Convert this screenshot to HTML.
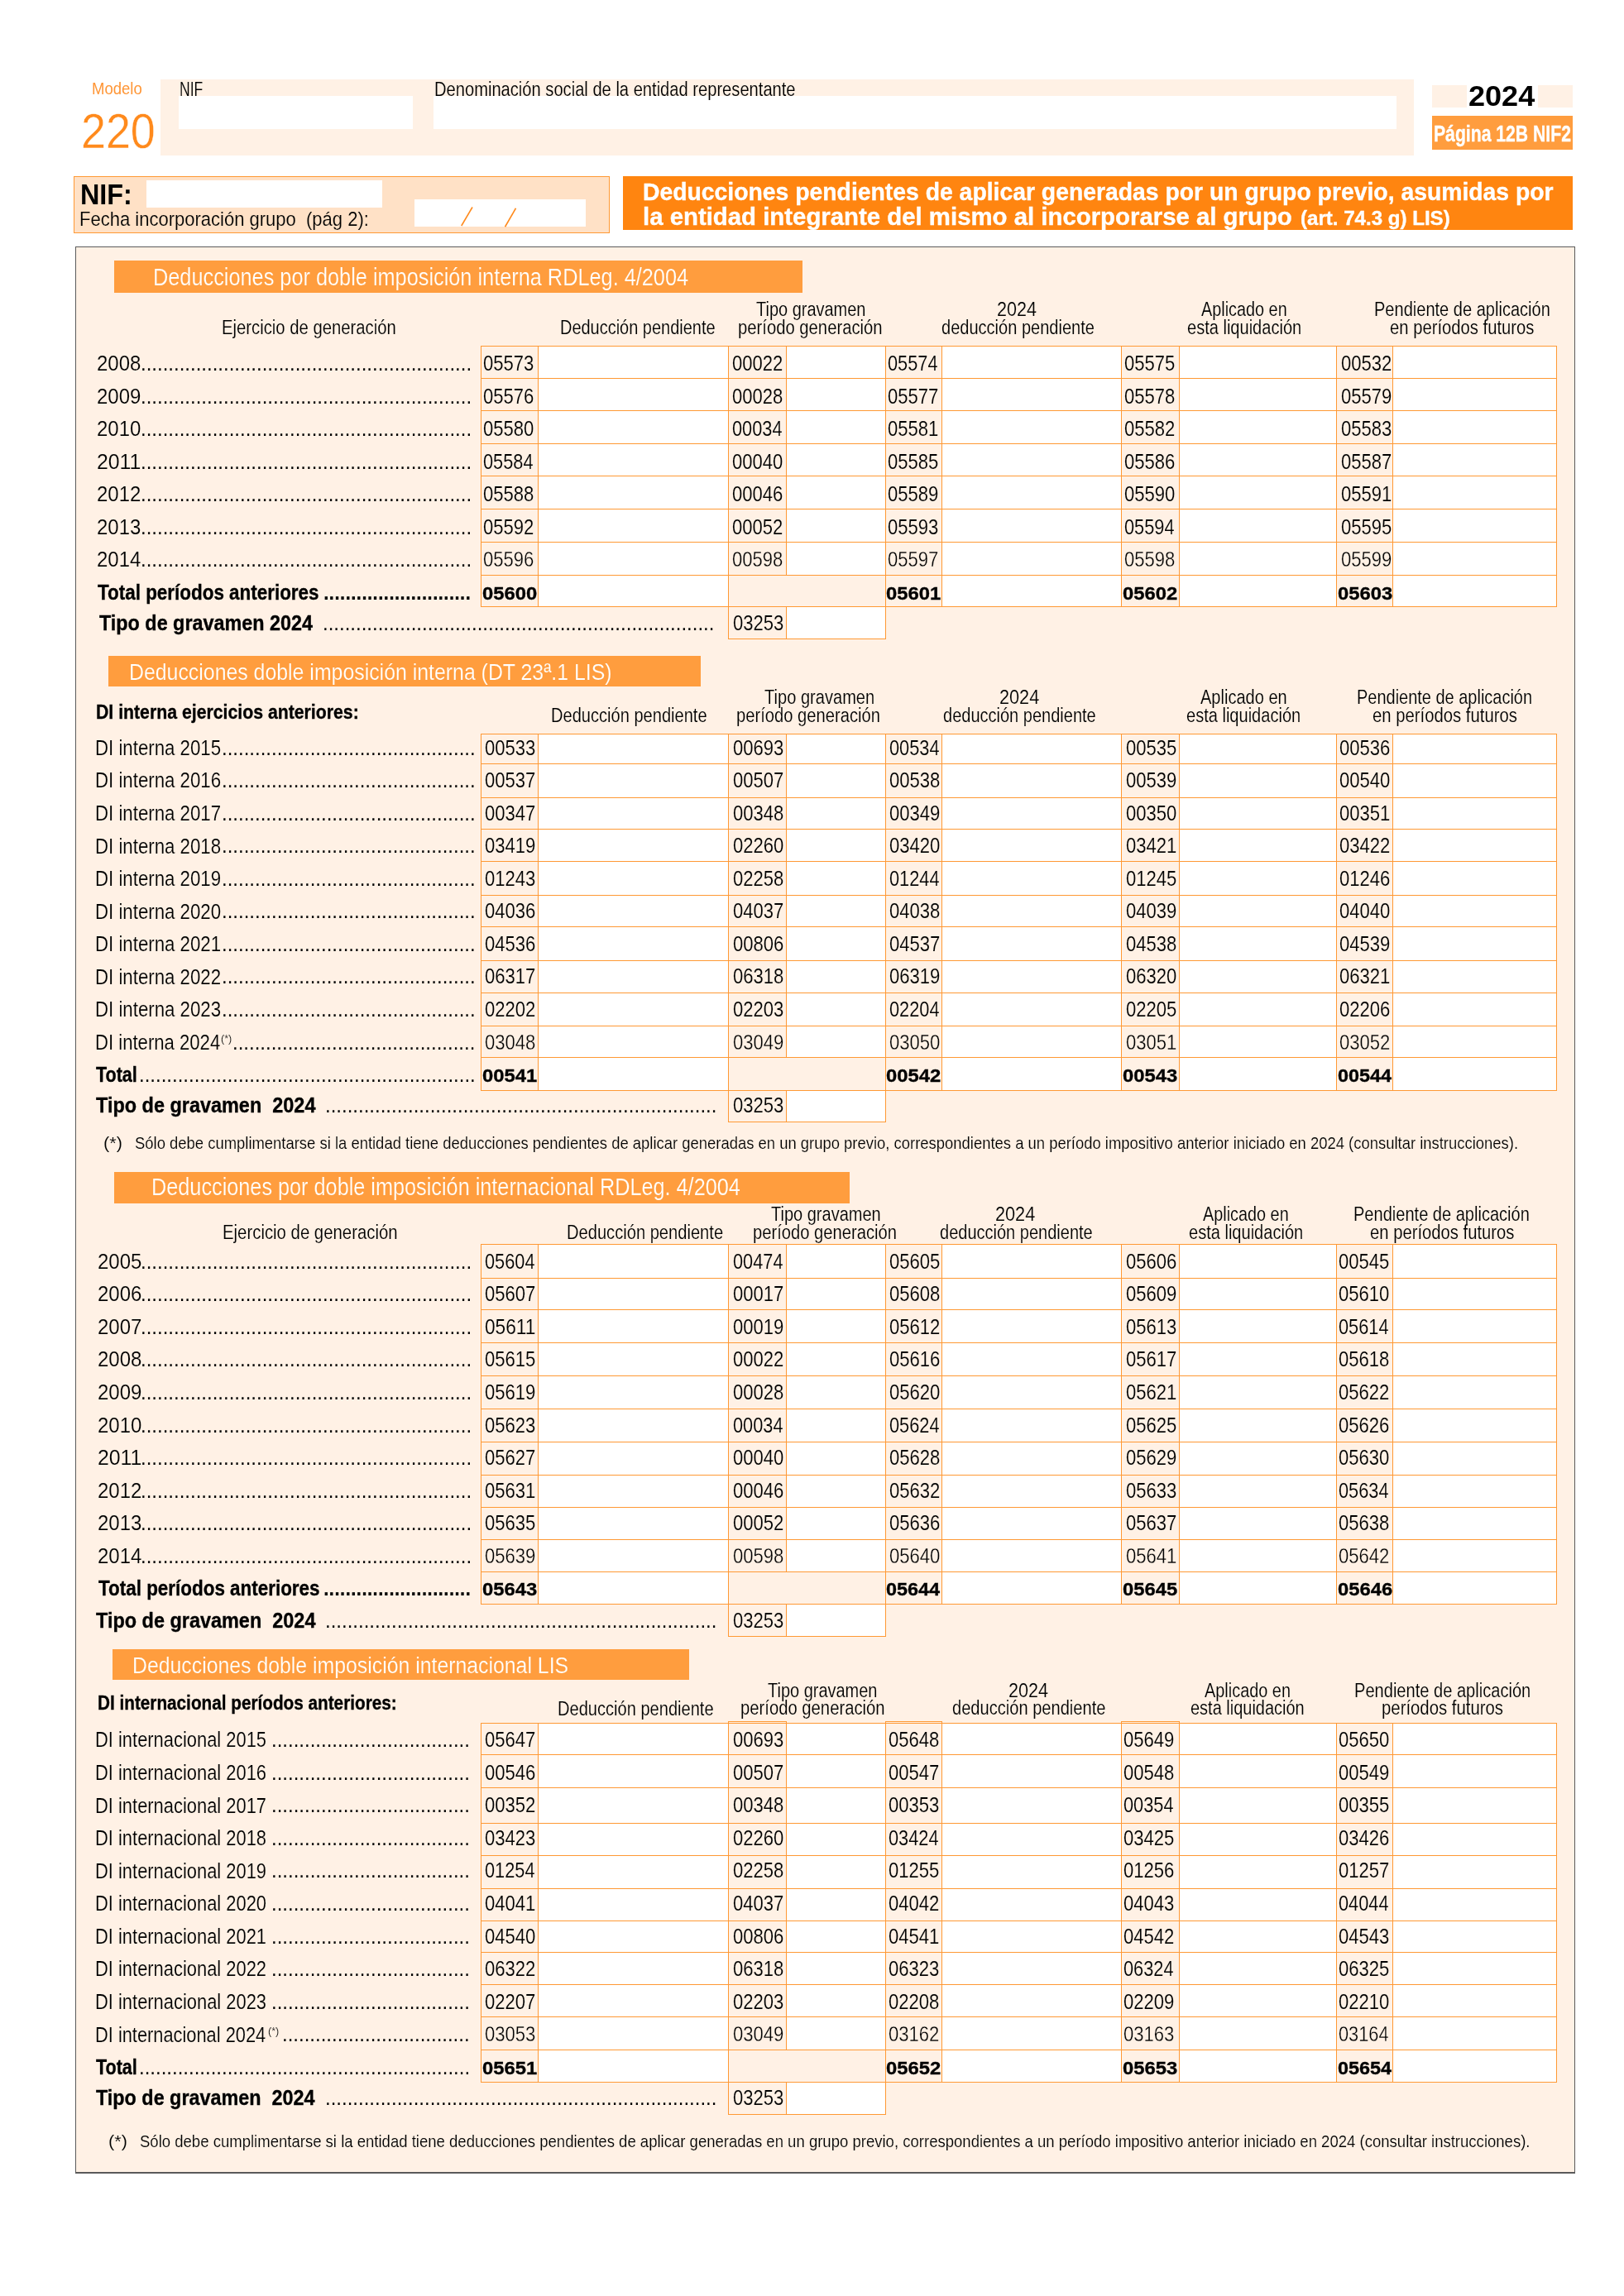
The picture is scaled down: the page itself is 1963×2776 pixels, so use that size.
<!DOCTYPE html>
<html lang="es"><head><meta charset="utf-8"><title>Modelo 220 - Página 12B NIF2</title>
<style>
html,body{margin:0;padding:0;background:#fff;}
body{width:1963px;height:2776px;position:relative;overflow:hidden;font-family:"Liberation Sans", sans-serif;}
.r{position:absolute;}
.t{position:absolute;white-space:pre;line-height:1;transform-origin:0 0;color:#000;}
.b{font-weight:bold;}
svg{position:absolute;left:0;top:0;}
#tx{position:absolute;left:0;top:0;width:1963px;height:2776px;will-change:transform;}
</style></head><body>
<div class="r" style="left:193.75px;top:95.50px;width:1515.50px;height:92.00px;background:#FFF1E5"></div>
<div class="r" style="left:216.00px;top:116.00px;width:283.00px;height:39.50px;background:#fff"></div>
<div class="r" style="left:524.00px;top:116.00px;width:1164.00px;height:39.50px;background:#fff"></div>
<div class="r" style="left:1730.75px;top:103.25px;width:170.45px;height:26.25px;background:#FFF1E5"></div>
<div class="r" style="left:1773.00px;top:100.00px;width:85.75px;height:30.00px;background:#fff"></div>
<div class="r" style="left:1731.00px;top:139.50px;width:170.20px;height:41.25px;background:#FF9D3E"></div>
<div class="r" style="left:89.00px;top:212.80px;width:648.00px;height:69.20px;background:#FF9934"></div>
<div class="r" style="left:90.20px;top:214.00px;width:645.60px;height:66.80px;background:#FFE1C6"></div>
<div class="r" style="left:177.00px;top:218.00px;width:284.75px;height:32.75px;background:#fff"></div>
<div class="r" style="left:501.00px;top:240.75px;width:206.75px;height:33.00px;background:#fff"></div>
<div class="r" style="left:753.00px;top:213.00px;width:1148.20px;height:64.70px;background:#FF8510"></div>
<div class="r" style="left:91.20px;top:297.60px;width:1812.80px;height:2330.00px;background:#5a5a5a"></div>
<div class="r" style="left:92.30px;top:298.70px;width:1810.60px;height:2327.80px;background:#FFF1E5"></div>
<div class="r" style="left:138.00px;top:315.00px;width:831.50px;height:39.40px;background:#FF9D3E"></div>
<div class="r" style="left:650.00px;top:418.75px;width:230.75px;height:315.00px;background:#fff"></div>
<div class="r" style="left:950.50px;top:418.75px;width:120.00px;height:276.25px;background:#fff"></div>
<div class="r" style="left:1138.50px;top:418.75px;width:217.25px;height:315.00px;background:#fff"></div>
<div class="r" style="left:1425.25px;top:418.75px;width:190.50px;height:315.00px;background:#fff"></div>
<div class="r" style="left:1683.75px;top:418.75px;width:197.50px;height:315.00px;background:#fff"></div>
<div class="r" style="left:950.50px;top:733.75px;width:120.00px;height:38.25px;background:#fff"></div>
<div class="r" style="left:580.65px;top:417.65px;width:1301.70px;height:1.70px;background:#FF9934"></div>
<div class="r" style="left:580.65px;top:456.65px;width:1301.70px;height:1.70px;background:#FF9934"></div>
<div class="r" style="left:580.65px;top:495.65px;width:1301.70px;height:1.70px;background:#FF9934"></div>
<div class="r" style="left:580.65px;top:535.65px;width:1301.70px;height:1.70px;background:#FF9934"></div>
<div class="r" style="left:580.65px;top:574.65px;width:1301.70px;height:1.70px;background:#FF9934"></div>
<div class="r" style="left:580.65px;top:614.65px;width:1301.70px;height:1.70px;background:#FF9934"></div>
<div class="r" style="left:580.65px;top:654.65px;width:1301.70px;height:1.70px;background:#FF9934"></div>
<div class="r" style="left:580.65px;top:694.65px;width:1301.70px;height:1.70px;background:#FF9934"></div>
<div class="r" style="left:580.65px;top:732.65px;width:1301.70px;height:1.70px;background:#FF9934"></div>
<div class="r" style="left:879.65px;top:771.65px;width:191.70px;height:1.70px;background:#FF9934"></div>
<div class="r" style="left:580.65px;top:417.65px;width:1.70px;height:316.70px;background:#FF9934"></div>
<div class="r" style="left:649.65px;top:417.65px;width:1.70px;height:316.70px;background:#FF9934"></div>
<div class="r" style="left:879.65px;top:417.65px;width:1.70px;height:355.70px;background:#FF9934"></div>
<div class="r" style="left:949.65px;top:417.65px;width:1.70px;height:278.70px;background:#FF9934"></div>
<div class="r" style="left:949.65px;top:732.65px;width:1.70px;height:40.70px;background:#FF9934"></div>
<div class="r" style="left:1069.65px;top:417.65px;width:1.70px;height:355.70px;background:#FF9934"></div>
<div class="r" style="left:1137.65px;top:417.65px;width:1.70px;height:316.70px;background:#FF9934"></div>
<div class="r" style="left:1354.65px;top:417.65px;width:1.70px;height:316.70px;background:#FF9934"></div>
<div class="r" style="left:1424.65px;top:417.65px;width:1.70px;height:316.70px;background:#FF9934"></div>
<div class="r" style="left:1614.65px;top:417.65px;width:1.70px;height:316.70px;background:#FF9934"></div>
<div class="r" style="left:1682.65px;top:417.65px;width:1.70px;height:316.70px;background:#FF9934"></div>
<div class="r" style="left:1880.65px;top:417.65px;width:1.70px;height:316.70px;background:#FF9934"></div>
<div class="r" style="left:131.25px;top:792.50px;width:715.75px;height:37.00px;background:#FF9D3E"></div>
<div class="r" style="left:650.00px;top:887.00px;width:230.75px;height:431.00px;background:#fff"></div>
<div class="r" style="left:950.50px;top:887.00px;width:120.00px;height:391.75px;background:#fff"></div>
<div class="r" style="left:1138.50px;top:887.00px;width:217.25px;height:431.00px;background:#fff"></div>
<div class="r" style="left:1425.25px;top:887.00px;width:190.50px;height:431.00px;background:#fff"></div>
<div class="r" style="left:1683.75px;top:887.00px;width:197.50px;height:431.00px;background:#fff"></div>
<div class="r" style="left:950.50px;top:1318.00px;width:120.00px;height:38.25px;background:#fff"></div>
<div class="r" style="left:580.65px;top:886.65px;width:1301.70px;height:1.70px;background:#FF9934"></div>
<div class="r" style="left:580.65px;top:922.65px;width:1301.70px;height:1.70px;background:#FF9934"></div>
<div class="r" style="left:580.65px;top:963.65px;width:1301.70px;height:1.70px;background:#FF9934"></div>
<div class="r" style="left:580.65px;top:1001.65px;width:1301.70px;height:1.70px;background:#FF9934"></div>
<div class="r" style="left:580.65px;top:1040.65px;width:1301.70px;height:1.70px;background:#FF9934"></div>
<div class="r" style="left:580.65px;top:1081.65px;width:1301.70px;height:1.70px;background:#FF9934"></div>
<div class="r" style="left:580.65px;top:1119.65px;width:1301.70px;height:1.70px;background:#FF9934"></div>
<div class="r" style="left:580.65px;top:1160.65px;width:1301.70px;height:1.70px;background:#FF9934"></div>
<div class="r" style="left:580.65px;top:1199.65px;width:1301.70px;height:1.70px;background:#FF9934"></div>
<div class="r" style="left:580.65px;top:1239.65px;width:1301.70px;height:1.70px;background:#FF9934"></div>
<div class="r" style="left:580.65px;top:1277.65px;width:1301.70px;height:1.70px;background:#FF9934"></div>
<div class="r" style="left:580.65px;top:1317.65px;width:1301.70px;height:1.70px;background:#FF9934"></div>
<div class="r" style="left:879.65px;top:1355.65px;width:191.70px;height:1.70px;background:#FF9934"></div>
<div class="r" style="left:580.65px;top:886.65px;width:1.70px;height:432.70px;background:#FF9934"></div>
<div class="r" style="left:649.65px;top:886.65px;width:1.70px;height:432.70px;background:#FF9934"></div>
<div class="r" style="left:879.65px;top:886.65px;width:1.70px;height:470.70px;background:#FF9934"></div>
<div class="r" style="left:949.65px;top:886.65px;width:1.70px;height:392.70px;background:#FF9934"></div>
<div class="r" style="left:949.65px;top:1317.65px;width:1.70px;height:39.70px;background:#FF9934"></div>
<div class="r" style="left:1069.65px;top:886.65px;width:1.70px;height:470.70px;background:#FF9934"></div>
<div class="r" style="left:1137.65px;top:886.65px;width:1.70px;height:432.70px;background:#FF9934"></div>
<div class="r" style="left:1354.65px;top:886.65px;width:1.70px;height:432.70px;background:#FF9934"></div>
<div class="r" style="left:1424.65px;top:886.65px;width:1.70px;height:432.70px;background:#FF9934"></div>
<div class="r" style="left:1614.65px;top:886.65px;width:1.70px;height:432.70px;background:#FF9934"></div>
<div class="r" style="left:1682.65px;top:886.65px;width:1.70px;height:432.70px;background:#FF9934"></div>
<div class="r" style="left:1880.65px;top:886.65px;width:1.70px;height:432.70px;background:#FF9934"></div>
<div class="r" style="left:138.00px;top:1416.50px;width:888.50px;height:38.00px;background:#FF9D3E"></div>
<div class="r" style="left:650.00px;top:1504.70px;width:230.75px;height:435.05px;background:#fff"></div>
<div class="r" style="left:950.50px;top:1504.70px;width:120.00px;height:396.05px;background:#fff"></div>
<div class="r" style="left:1138.50px;top:1504.70px;width:217.25px;height:435.05px;background:#fff"></div>
<div class="r" style="left:1425.25px;top:1504.70px;width:190.50px;height:435.05px;background:#fff"></div>
<div class="r" style="left:1683.75px;top:1504.70px;width:197.50px;height:435.05px;background:#fff"></div>
<div class="r" style="left:950.50px;top:1939.75px;width:120.00px;height:39.00px;background:#fff"></div>
<div class="r" style="left:580.65px;top:1503.65px;width:1301.70px;height:1.70px;background:#FF9934"></div>
<div class="r" style="left:580.65px;top:1544.65px;width:1301.70px;height:1.70px;background:#FF9934"></div>
<div class="r" style="left:580.65px;top:1582.65px;width:1301.70px;height:1.70px;background:#FF9934"></div>
<div class="r" style="left:580.65px;top:1622.65px;width:1301.70px;height:1.70px;background:#FF9934"></div>
<div class="r" style="left:580.65px;top:1662.65px;width:1301.70px;height:1.70px;background:#FF9934"></div>
<div class="r" style="left:580.65px;top:1702.65px;width:1301.70px;height:1.70px;background:#FF9934"></div>
<div class="r" style="left:580.65px;top:1742.65px;width:1301.70px;height:1.70px;background:#FF9934"></div>
<div class="r" style="left:580.65px;top:1782.65px;width:1301.70px;height:1.70px;background:#FF9934"></div>
<div class="r" style="left:580.65px;top:1821.65px;width:1301.70px;height:1.70px;background:#FF9934"></div>
<div class="r" style="left:580.65px;top:1860.65px;width:1301.70px;height:1.70px;background:#FF9934"></div>
<div class="r" style="left:580.65px;top:1899.65px;width:1301.70px;height:1.70px;background:#FF9934"></div>
<div class="r" style="left:580.65px;top:1938.65px;width:1301.70px;height:1.70px;background:#FF9934"></div>
<div class="r" style="left:879.65px;top:1977.65px;width:191.70px;height:1.70px;background:#FF9934"></div>
<div class="r" style="left:580.65px;top:1503.65px;width:1.70px;height:436.70px;background:#FF9934"></div>
<div class="r" style="left:649.65px;top:1503.65px;width:1.70px;height:436.70px;background:#FF9934"></div>
<div class="r" style="left:879.65px;top:1503.65px;width:1.70px;height:475.70px;background:#FF9934"></div>
<div class="r" style="left:949.65px;top:1503.65px;width:1.70px;height:397.70px;background:#FF9934"></div>
<div class="r" style="left:949.65px;top:1938.65px;width:1.70px;height:40.70px;background:#FF9934"></div>
<div class="r" style="left:1069.65px;top:1503.65px;width:1.70px;height:475.70px;background:#FF9934"></div>
<div class="r" style="left:1137.65px;top:1503.65px;width:1.70px;height:436.70px;background:#FF9934"></div>
<div class="r" style="left:1354.65px;top:1503.65px;width:1.70px;height:436.70px;background:#FF9934"></div>
<div class="r" style="left:1424.65px;top:1503.65px;width:1.70px;height:436.70px;background:#FF9934"></div>
<div class="r" style="left:1614.65px;top:1503.65px;width:1.70px;height:436.70px;background:#FF9934"></div>
<div class="r" style="left:1682.65px;top:1503.65px;width:1.70px;height:436.70px;background:#FF9934"></div>
<div class="r" style="left:1880.65px;top:1503.65px;width:1.70px;height:436.70px;background:#FF9934"></div>
<div class="r" style="left:136.00px;top:1994.00px;width:696.50px;height:36.50px;background:#FF9D3E"></div>
<div class="r" style="left:650.00px;top:2083.00px;width:230.75px;height:434.50px;background:#fff"></div>
<div class="r" style="left:950.50px;top:2083.00px;width:120.00px;height:395.25px;background:#fff"></div>
<div class="r" style="left:1138.50px;top:2083.00px;width:217.25px;height:434.50px;background:#fff"></div>
<div class="r" style="left:1425.25px;top:2083.00px;width:190.50px;height:434.50px;background:#fff"></div>
<div class="r" style="left:1683.75px;top:2083.00px;width:197.50px;height:434.50px;background:#fff"></div>
<div class="r" style="left:950.50px;top:2517.50px;width:120.00px;height:38.75px;background:#fff"></div>
<div class="r" style="left:580.65px;top:2082.65px;width:1301.70px;height:1.70px;background:#FF9934"></div>
<div class="r" style="left:580.65px;top:2120.65px;width:1301.70px;height:1.70px;background:#FF9934"></div>
<div class="r" style="left:580.65px;top:2160.65px;width:1301.70px;height:1.70px;background:#FF9934"></div>
<div class="r" style="left:580.65px;top:2203.65px;width:1301.70px;height:1.70px;background:#FF9934"></div>
<div class="r" style="left:580.65px;top:2242.65px;width:1301.70px;height:1.70px;background:#FF9934"></div>
<div class="r" style="left:580.65px;top:2282.65px;width:1301.70px;height:1.70px;background:#FF9934"></div>
<div class="r" style="left:580.65px;top:2321.65px;width:1301.70px;height:1.70px;background:#FF9934"></div>
<div class="r" style="left:580.65px;top:2359.65px;width:1301.70px;height:1.70px;background:#FF9934"></div>
<div class="r" style="left:580.65px;top:2398.65px;width:1301.70px;height:1.70px;background:#FF9934"></div>
<div class="r" style="left:580.65px;top:2437.65px;width:1301.70px;height:1.70px;background:#FF9934"></div>
<div class="r" style="left:580.65px;top:2477.65px;width:1301.70px;height:1.70px;background:#FF9934"></div>
<div class="r" style="left:580.65px;top:2516.65px;width:1301.70px;height:1.70px;background:#FF9934"></div>
<div class="r" style="left:879.65px;top:2555.65px;width:191.70px;height:1.70px;background:#FF9934"></div>
<div class="r" style="left:580.65px;top:2082.65px;width:1.70px;height:435.70px;background:#FF9934"></div>
<div class="r" style="left:649.65px;top:2082.65px;width:1.70px;height:435.70px;background:#FF9934"></div>
<div class="r" style="left:879.65px;top:2082.65px;width:1.70px;height:474.70px;background:#FF9934"></div>
<div class="r" style="left:949.65px;top:2082.65px;width:1.70px;height:396.70px;background:#FF9934"></div>
<div class="r" style="left:949.65px;top:2516.65px;width:1.70px;height:40.70px;background:#FF9934"></div>
<div class="r" style="left:1069.65px;top:2082.65px;width:1.70px;height:474.70px;background:#FF9934"></div>
<div class="r" style="left:1137.65px;top:2082.65px;width:1.70px;height:435.70px;background:#FF9934"></div>
<div class="r" style="left:1354.65px;top:2082.65px;width:1.70px;height:435.70px;background:#FF9934"></div>
<div class="r" style="left:1424.65px;top:2082.65px;width:1.70px;height:435.70px;background:#FF9934"></div>
<div class="r" style="left:1614.65px;top:2082.65px;width:1.70px;height:435.70px;background:#FF9934"></div>
<div class="r" style="left:1682.65px;top:2082.65px;width:1.70px;height:435.70px;background:#FF9934"></div>
<div class="r" style="left:1880.65px;top:2082.65px;width:1.70px;height:435.70px;background:#FF9934"></div>
<div class="r" style="left:879.65px;top:2080.65px;width:71.70px;height:1.70px;background:#FF9934"></div>
<div class="r" style="left:879.65px;top:2080.65px;width:1.70px;height:3.70px;background:#FF9934"></div>
<div class="r" style="left:949.65px;top:2080.65px;width:1.70px;height:3.70px;background:#FF9934"></div>
<div class="r" style="left:1069.65px;top:2080.65px;width:69.70px;height:1.70px;background:#FF9934"></div>
<div class="r" style="left:1069.65px;top:2080.65px;width:1.70px;height:3.70px;background:#FF9934"></div>
<div class="r" style="left:1137.65px;top:2080.65px;width:1.70px;height:3.70px;background:#FF9934"></div>
<div class="r" style="left:1354.65px;top:2080.65px;width:71.70px;height:1.70px;background:#FF9934"></div>
<div class="r" style="left:1354.65px;top:2080.65px;width:1.70px;height:3.70px;background:#FF9934"></div>
<div class="r" style="left:1424.65px;top:2080.65px;width:1.70px;height:3.70px;background:#FF9934"></div>
<svg width="1963" height="2776" viewBox="0 0 1963 2776"><g stroke="#FF8A1C" stroke-width="1.6" fill="none"><line x1="571" y1="250.5" x2="557.75" y2="273"/><line x1="623.5" y1="251.75" x2="610.5" y2="274.25"/></g></svg>
<div id="tx">
<div class="t" style="left:110.87px;top:95.75px;font-size:21.00px;transform:scaleX(0.8817);color:#FF9636;">Modelo</div>
<div class="t" style="left:97.66px;top:129.75px;font-size:58.50px;transform:scaleX(0.9195);color:#FF8A1C;-webkit-text-stroke:0.41px #fff;">220</div>
<div class="t" style="left:216.74px;top:96.70px;font-size:23.00px;transform:scaleX(0.7639);-webkit-text-stroke:0.14px #FFF1E5;">NIF</div>
<div class="t" style="left:525.12px;top:96.70px;font-size:23.00px;transform:scaleX(0.8755);-webkit-text-stroke:0.14px #FFF1E5;">Denominación social de la entidad representante</div>
<div class="t b" style="left:1774.71px;top:99.00px;font-size:34.60px;transform:scaleX(1.0431);color:#000;">2024</div>
<div class="t b" style="left:1733.24px;top:148.00px;font-size:28.00px;transform:scaleX(0.7563);color:#fff;-webkit-text-stroke:0.4px #fff;">Página 12B NIF2</div>
<div class="t b" style="left:96.98px;top:218.00px;font-size:35.50px;transform:scaleX(0.9114);color:#000;">NIF:</div>
<div class="t" style="left:96.19px;top:253.00px;font-size:24.30px;transform:scaleX(0.9058);-webkit-text-stroke:0.14px #FFE1C6;">Fecha incorporación grupo  (pág 2):</div>
<div class="t b" style="left:777.11px;top:216.80px;font-size:30.00px;transform:scaleX(0.9445);color:#fff;-webkit-text-stroke:0.4px #fff;">Deducciones pendientes de aplicar generadas por un grupo previo, asumidas por</div>
<div class="t b" style="left:777.04px;top:246.80px;font-size:30.00px;transform:scaleX(0.9787);color:#fff;-webkit-text-stroke:0.4px #fff;">la entidad integrante del mismo al incorporarse al grupo</div>
<div class="t b" style="left:1572.02px;top:251.80px;font-size:24.60px;transform:scaleX(0.9792);color:#fff;-webkit-text-stroke:0.4px #fff;">(art. 74.3 g) LIS)</div>
<div class="t" style="left:184.50px;top:321.20px;font-size:29.00px;transform:scaleX(0.8726);color:#fff;-webkit-text-stroke:0.20px #FF9D3E;">Deducciones por doble imposición interna RDLeg. 4/2004</div>
<div class="t" style="left:268.37px;top:384.50px;font-size:23.00px;transform:scaleX(0.8818);-webkit-text-stroke:0.14px #FFF1E5;">Ejercicio de generación</div>
<div class="t" style="left:677.13px;top:384.50px;font-size:23.00px;transform:scaleX(0.8679);-webkit-text-stroke:0.14px #FFF1E5;">Deducción pendiente</div>
<div class="t" style="left:913.75px;top:363.25px;font-size:23.00px;transform:scaleX(0.8681);-webkit-text-stroke:0.14px #FFF1E5;">Tipo gravamen</div>
<div class="t" style="left:891.62px;top:384.85px;font-size:23.00px;transform:scaleX(0.8808);-webkit-text-stroke:0.14px #FFF1E5;">período generación</div>
<div class="t" style="left:1204.81px;top:363.25px;font-size:23.00px;transform:scaleX(0.9380);-webkit-text-stroke:0.14px #FFF1E5;">2024</div>
<div class="t" style="left:1137.50px;top:384.85px;font-size:23.00px;transform:scaleX(0.8712);-webkit-text-stroke:0.14px #FFF1E5;">deducción pendiente</div>
<div class="t" style="left:1452.00px;top:363.25px;font-size:23.00px;transform:scaleX(0.8626);-webkit-text-stroke:0.14px #FFF1E5;">Aplicado en</div>
<div class="t" style="left:1435.00px;top:384.85px;font-size:23.00px;transform:scaleX(0.8716);-webkit-text-stroke:0.14px #FFF1E5;">esta liquidación</div>
<div class="t" style="left:1661.13px;top:363.25px;font-size:23.00px;transform:scaleX(0.8713);-webkit-text-stroke:0.14px #FFF1E5;">Pendiente de aplicación</div>
<div class="t" style="left:1680.00px;top:384.85px;font-size:23.00px;transform:scaleX(0.8802);-webkit-text-stroke:0.14px #FFF1E5;">en períodos futuros</div>
<div class="t" style="left:584.20px;top:427.20px;font-size:25.00px;transform:scaleX(0.8832);-webkit-text-stroke:0.14px #FFF1E5;">05573</div>
<div class="t" style="left:884.50px;top:427.20px;font-size:25.00px;transform:scaleX(0.8832);-webkit-text-stroke:0.14px #FFF1E5;">00022</div>
<div class="t" style="left:1072.50px;top:427.20px;font-size:25.00px;transform:scaleX(0.8705);-webkit-text-stroke:0.14px #FFF1E5;">05574</div>
<div class="t" style="left:1359.25px;top:427.20px;font-size:25.00px;transform:scaleX(0.8832);-webkit-text-stroke:0.14px #FFF1E5;">05575</div>
<div class="t" style="left:1620.65px;top:427.20px;font-size:25.00px;transform:scaleX(0.8832);-webkit-text-stroke:0.14px #FFF1E5;">00532</div>
<div class="t" style="left:584.20px;top:466.72px;font-size:25.00px;transform:scaleX(0.8832);-webkit-text-stroke:0.14px #FFF1E5;">05576</div>
<div class="t" style="left:884.50px;top:466.72px;font-size:25.00px;transform:scaleX(0.8832);-webkit-text-stroke:0.14px #FFF1E5;">00028</div>
<div class="t" style="left:1072.50px;top:466.72px;font-size:25.00px;transform:scaleX(0.8832);-webkit-text-stroke:0.14px #FFF1E5;">05577</div>
<div class="t" style="left:1359.25px;top:466.72px;font-size:25.00px;transform:scaleX(0.8832);-webkit-text-stroke:0.14px #FFF1E5;">05578</div>
<div class="t" style="left:1620.65px;top:466.72px;font-size:25.00px;transform:scaleX(0.8832);-webkit-text-stroke:0.14px #FFF1E5;">05579</div>
<div class="t" style="left:584.20px;top:506.24px;font-size:25.00px;transform:scaleX(0.8832);-webkit-text-stroke:0.14px #FFF1E5;">05580</div>
<div class="t" style="left:884.50px;top:506.24px;font-size:25.00px;transform:scaleX(0.8705);-webkit-text-stroke:0.14px #FFF1E5;">00034</div>
<div class="t" style="left:1072.50px;top:506.24px;font-size:25.00px;transform:scaleX(0.8832);-webkit-text-stroke:0.14px #FFF1E5;">05581</div>
<div class="t" style="left:1359.25px;top:506.24px;font-size:25.00px;transform:scaleX(0.8832);-webkit-text-stroke:0.14px #FFF1E5;">05582</div>
<div class="t" style="left:1620.65px;top:506.24px;font-size:25.00px;transform:scaleX(0.8832);-webkit-text-stroke:0.14px #FFF1E5;">05583</div>
<div class="t" style="left:584.20px;top:545.76px;font-size:25.00px;transform:scaleX(0.8705);-webkit-text-stroke:0.14px #FFF1E5;">05584</div>
<div class="t" style="left:884.50px;top:545.76px;font-size:25.00px;transform:scaleX(0.8832);-webkit-text-stroke:0.14px #FFF1E5;">00040</div>
<div class="t" style="left:1072.50px;top:545.76px;font-size:25.00px;transform:scaleX(0.8832);-webkit-text-stroke:0.14px #FFF1E5;">05585</div>
<div class="t" style="left:1359.25px;top:545.76px;font-size:25.00px;transform:scaleX(0.8832);-webkit-text-stroke:0.14px #FFF1E5;">05586</div>
<div class="t" style="left:1620.65px;top:545.76px;font-size:25.00px;transform:scaleX(0.8832);-webkit-text-stroke:0.14px #FFF1E5;">05587</div>
<div class="t" style="left:584.20px;top:585.28px;font-size:25.00px;transform:scaleX(0.8832);-webkit-text-stroke:0.14px #FFF1E5;">05588</div>
<div class="t" style="left:884.50px;top:585.28px;font-size:25.00px;transform:scaleX(0.8832);-webkit-text-stroke:0.14px #FFF1E5;">00046</div>
<div class="t" style="left:1072.50px;top:585.28px;font-size:25.00px;transform:scaleX(0.8832);-webkit-text-stroke:0.14px #FFF1E5;">05589</div>
<div class="t" style="left:1359.25px;top:585.28px;font-size:25.00px;transform:scaleX(0.8832);-webkit-text-stroke:0.14px #FFF1E5;">05590</div>
<div class="t" style="left:1620.65px;top:585.28px;font-size:25.00px;transform:scaleX(0.8832);-webkit-text-stroke:0.14px #FFF1E5;">05591</div>
<div class="t" style="left:584.20px;top:624.80px;font-size:25.00px;transform:scaleX(0.8832);-webkit-text-stroke:0.14px #FFF1E5;">05592</div>
<div class="t" style="left:884.50px;top:624.80px;font-size:25.00px;transform:scaleX(0.8832);-webkit-text-stroke:0.14px #FFF1E5;">00052</div>
<div class="t" style="left:1072.50px;top:624.80px;font-size:25.00px;transform:scaleX(0.8832);-webkit-text-stroke:0.14px #FFF1E5;">05593</div>
<div class="t" style="left:1359.25px;top:624.80px;font-size:25.00px;transform:scaleX(0.8705);-webkit-text-stroke:0.14px #FFF1E5;">05594</div>
<div class="t" style="left:1620.65px;top:624.80px;font-size:25.00px;transform:scaleX(0.8832);-webkit-text-stroke:0.14px #FFF1E5;">05595</div>
<div class="t" style="left:584.20px;top:664.32px;font-size:25.00px;transform:scaleX(0.8832);-webkit-text-stroke:0.30px #FFF1E5;">05596</div>
<div class="t" style="left:884.50px;top:664.32px;font-size:25.00px;transform:scaleX(0.8832);-webkit-text-stroke:0.30px #FFF1E5;">00598</div>
<div class="t" style="left:1072.50px;top:664.32px;font-size:25.00px;transform:scaleX(0.8832);-webkit-text-stroke:0.30px #FFF1E5;">05597</div>
<div class="t" style="left:1359.25px;top:664.32px;font-size:25.00px;transform:scaleX(0.8832);-webkit-text-stroke:0.30px #FFF1E5;">05598</div>
<div class="t" style="left:1620.65px;top:664.32px;font-size:25.00px;transform:scaleX(0.8832);-webkit-text-stroke:0.30px #FFF1E5;">05599</div>
<div class="t b" style="left:582.50px;top:706.84px;font-size:22.60px;transform:scaleX(1.0536);color:#000;-webkit-text-stroke:0.35px #000;">05600</div>
<div class="t b" style="left:1071.30px;top:706.84px;font-size:22.60px;transform:scaleX(1.0536);color:#000;-webkit-text-stroke:0.35px #000;">05601</div>
<div class="t b" style="left:1356.55px;top:706.84px;font-size:22.60px;transform:scaleX(1.0536);color:#000;-webkit-text-stroke:0.35px #000;">05602</div>
<div class="t b" style="left:1616.55px;top:706.84px;font-size:22.60px;transform:scaleX(1.0536);color:#000;-webkit-text-stroke:0.35px #000;">05603</div>
<div class="t" style="left:886.25px;top:740.60px;font-size:25.00px;transform:scaleX(0.8832);-webkit-text-stroke:0.14px #FFF1E5;">03253</div>
<div class="t" style="left:117.08px;top:426.20px;font-size:26.00px;transform:scaleX(0.9223);-webkit-text-stroke:0.14px #FFF1E5;">2008</div>
<div class="t" style="left:169.92px;top:426.20px;font-size:26.00px;transform:scaleX(0.9230);">............................................................</div>
<div class="t" style="left:117.08px;top:465.72px;font-size:26.00px;transform:scaleX(0.9223);-webkit-text-stroke:0.14px #FFF1E5;">2009</div>
<div class="t" style="left:169.92px;top:465.72px;font-size:26.00px;transform:scaleX(0.9230);">............................................................</div>
<div class="t" style="left:117.08px;top:505.24px;font-size:26.00px;transform:scaleX(0.9223);-webkit-text-stroke:0.14px #FFF1E5;">2010</div>
<div class="t" style="left:169.92px;top:505.24px;font-size:26.00px;transform:scaleX(0.9230);">............................................................</div>
<div class="t" style="left:117.04px;top:544.76px;font-size:26.00px;transform:scaleX(0.9550);-webkit-text-stroke:0.14px #FFF1E5;">2011</div>
<div class="t" style="left:169.92px;top:544.76px;font-size:26.00px;transform:scaleX(0.9230);">............................................................</div>
<div class="t" style="left:117.08px;top:584.28px;font-size:26.00px;transform:scaleX(0.9223);-webkit-text-stroke:0.14px #FFF1E5;">2012</div>
<div class="t" style="left:169.92px;top:584.28px;font-size:26.00px;transform:scaleX(0.9230);">............................................................</div>
<div class="t" style="left:117.08px;top:623.80px;font-size:26.00px;transform:scaleX(0.9223);-webkit-text-stroke:0.14px #FFF1E5;">2013</div>
<div class="t" style="left:169.92px;top:623.80px;font-size:26.00px;transform:scaleX(0.9230);">............................................................</div>
<div class="t" style="left:117.08px;top:663.32px;font-size:26.00px;transform:scaleX(0.9223);-webkit-text-stroke:0.14px #FFF1E5;">2014</div>
<div class="t" style="left:169.92px;top:663.32px;font-size:26.00px;transform:scaleX(0.9230);">............................................................</div>
<div class="t b" style="left:117.50px;top:703.84px;font-size:25.00px;transform:scaleX(0.8972);color:#000;-webkit-text-stroke:0.35px #000;">Total períodos anteriores</div>
<div class="t b" style="left:390.97px;top:702.84px;font-size:26.00px;transform:scaleX(0.9129);">...........................</div>
<div class="t b" style="left:119.50px;top:740.80px;font-size:25.00px;transform:scaleX(0.9343);color:#000;-webkit-text-stroke:0.35px #000;">Tipo de gravamen 2024</div>
<div class="t" style="left:390.15px;top:739.80px;font-size:26.00px;transform:scaleX(0.9230);">.......................................................................</div>
<div class="t" style="left:155.75px;top:798.00px;font-size:28.40px;transform:scaleX(0.8756);color:#fff;-webkit-text-stroke:0.20px #FF9D3E;">Deducciones doble imposición interna (DT 23ª.1 LIS)</div>
<div class="t b" style="left:116.13px;top:849.00px;font-size:24.40px;transform:scaleX(0.8713);color:#000;-webkit-text-stroke:0.35px #000;">DI interna ejercicios anteriores:</div>
<div class="t" style="left:666.13px;top:853.50px;font-size:23.00px;transform:scaleX(0.8725);-webkit-text-stroke:0.14px #FFF1E5;">Deducción pendiente</div>
<div class="t" style="left:923.50px;top:832.00px;font-size:23.00px;transform:scaleX(0.8731);-webkit-text-stroke:0.14px #FFF1E5;">Tipo gravamen</div>
<div class="t" style="left:890.12px;top:853.60px;font-size:23.00px;transform:scaleX(0.8782);-webkit-text-stroke:0.14px #FFF1E5;">período generación</div>
<div class="t" style="left:1207.56px;top:832.00px;font-size:23.00px;transform:scaleX(0.9429);-webkit-text-stroke:0.14px #FFF1E5;">2024</div>
<div class="t" style="left:1140.00px;top:853.60px;font-size:23.00px;transform:scaleX(0.8700);-webkit-text-stroke:0.14px #FFF1E5;">deducción pendiente</div>
<div class="t" style="left:1451.00px;top:832.00px;font-size:23.00px;transform:scaleX(0.8710);-webkit-text-stroke:0.14px #FFF1E5;">Aplicado en</div>
<div class="t" style="left:1434.00px;top:853.60px;font-size:23.00px;transform:scaleX(0.8716);-webkit-text-stroke:0.14px #FFF1E5;">esta liquidación</div>
<div class="t" style="left:1640.13px;top:832.00px;font-size:23.00px;transform:scaleX(0.8682);-webkit-text-stroke:0.14px #FFF1E5;">Pendiente de aplicación</div>
<div class="t" style="left:1659.00px;top:853.60px;font-size:23.00px;transform:scaleX(0.8827);-webkit-text-stroke:0.14px #FFF1E5;">en períodos futuros</div>
<div class="t" style="left:585.70px;top:891.60px;font-size:25.00px;transform:scaleX(0.8832);-webkit-text-stroke:0.14px #FFF1E5;">00533</div>
<div class="t" style="left:886.25px;top:891.60px;font-size:25.00px;transform:scaleX(0.8832);-webkit-text-stroke:0.14px #FFF1E5;">00693</div>
<div class="t" style="left:1075.00px;top:891.60px;font-size:25.00px;transform:scaleX(0.8705);-webkit-text-stroke:0.14px #FFF1E5;">00534</div>
<div class="t" style="left:1361.35px;top:891.60px;font-size:25.00px;transform:scaleX(0.8832);-webkit-text-stroke:0.14px #FFF1E5;">00535</div>
<div class="t" style="left:1618.55px;top:891.60px;font-size:25.00px;transform:scaleX(0.8832);-webkit-text-stroke:0.14px #FFF1E5;">00536</div>
<div class="t" style="left:585.70px;top:931.15px;font-size:25.00px;transform:scaleX(0.8832);-webkit-text-stroke:0.14px #FFF1E5;">00537</div>
<div class="t" style="left:886.25px;top:931.15px;font-size:25.00px;transform:scaleX(0.8832);-webkit-text-stroke:0.14px #FFF1E5;">00507</div>
<div class="t" style="left:1075.00px;top:931.15px;font-size:25.00px;transform:scaleX(0.8832);-webkit-text-stroke:0.14px #FFF1E5;">00538</div>
<div class="t" style="left:1361.35px;top:931.15px;font-size:25.00px;transform:scaleX(0.8832);-webkit-text-stroke:0.14px #FFF1E5;">00539</div>
<div class="t" style="left:1618.55px;top:931.15px;font-size:25.00px;transform:scaleX(0.8832);-webkit-text-stroke:0.14px #FFF1E5;">00540</div>
<div class="t" style="left:585.70px;top:970.70px;font-size:25.00px;transform:scaleX(0.8832);-webkit-text-stroke:0.14px #FFF1E5;">00347</div>
<div class="t" style="left:886.25px;top:970.70px;font-size:25.00px;transform:scaleX(0.8832);-webkit-text-stroke:0.14px #FFF1E5;">00348</div>
<div class="t" style="left:1075.00px;top:970.70px;font-size:25.00px;transform:scaleX(0.8832);-webkit-text-stroke:0.14px #FFF1E5;">00349</div>
<div class="t" style="left:1361.35px;top:970.70px;font-size:25.00px;transform:scaleX(0.8832);-webkit-text-stroke:0.14px #FFF1E5;">00350</div>
<div class="t" style="left:1618.55px;top:970.70px;font-size:25.00px;transform:scaleX(0.8832);-webkit-text-stroke:0.14px #FFF1E5;">00351</div>
<div class="t" style="left:585.70px;top:1010.25px;font-size:25.00px;transform:scaleX(0.8832);-webkit-text-stroke:0.14px #FFF1E5;">03419</div>
<div class="t" style="left:886.25px;top:1010.25px;font-size:25.00px;transform:scaleX(0.8832);-webkit-text-stroke:0.14px #FFF1E5;">02260</div>
<div class="t" style="left:1075.00px;top:1010.25px;font-size:25.00px;transform:scaleX(0.8832);-webkit-text-stroke:0.14px #FFF1E5;">03420</div>
<div class="t" style="left:1361.35px;top:1010.25px;font-size:25.00px;transform:scaleX(0.8832);-webkit-text-stroke:0.14px #FFF1E5;">03421</div>
<div class="t" style="left:1618.55px;top:1010.25px;font-size:25.00px;transform:scaleX(0.8832);-webkit-text-stroke:0.14px #FFF1E5;">03422</div>
<div class="t" style="left:585.70px;top:1049.80px;font-size:25.00px;transform:scaleX(0.8832);-webkit-text-stroke:0.14px #FFF1E5;">01243</div>
<div class="t" style="left:886.25px;top:1049.80px;font-size:25.00px;transform:scaleX(0.8832);-webkit-text-stroke:0.14px #FFF1E5;">02258</div>
<div class="t" style="left:1075.00px;top:1049.80px;font-size:25.00px;transform:scaleX(0.8705);-webkit-text-stroke:0.14px #FFF1E5;">01244</div>
<div class="t" style="left:1361.35px;top:1049.80px;font-size:25.00px;transform:scaleX(0.8832);-webkit-text-stroke:0.14px #FFF1E5;">01245</div>
<div class="t" style="left:1618.55px;top:1049.80px;font-size:25.00px;transform:scaleX(0.8832);-webkit-text-stroke:0.14px #FFF1E5;">01246</div>
<div class="t" style="left:585.70px;top:1089.35px;font-size:25.00px;transform:scaleX(0.8832);-webkit-text-stroke:0.14px #FFF1E5;">04036</div>
<div class="t" style="left:886.25px;top:1089.35px;font-size:25.00px;transform:scaleX(0.8832);-webkit-text-stroke:0.14px #FFF1E5;">04037</div>
<div class="t" style="left:1075.00px;top:1089.35px;font-size:25.00px;transform:scaleX(0.8832);-webkit-text-stroke:0.14px #FFF1E5;">04038</div>
<div class="t" style="left:1361.35px;top:1089.35px;font-size:25.00px;transform:scaleX(0.8832);-webkit-text-stroke:0.14px #FFF1E5;">04039</div>
<div class="t" style="left:1618.55px;top:1089.35px;font-size:25.00px;transform:scaleX(0.8832);-webkit-text-stroke:0.14px #FFF1E5;">04040</div>
<div class="t" style="left:585.70px;top:1128.90px;font-size:25.00px;transform:scaleX(0.8832);-webkit-text-stroke:0.14px #FFF1E5;">04536</div>
<div class="t" style="left:886.25px;top:1128.90px;font-size:25.00px;transform:scaleX(0.8832);-webkit-text-stroke:0.14px #FFF1E5;">00806</div>
<div class="t" style="left:1075.00px;top:1128.90px;font-size:25.00px;transform:scaleX(0.8832);-webkit-text-stroke:0.14px #FFF1E5;">04537</div>
<div class="t" style="left:1361.35px;top:1128.90px;font-size:25.00px;transform:scaleX(0.8832);-webkit-text-stroke:0.14px #FFF1E5;">04538</div>
<div class="t" style="left:1618.55px;top:1128.90px;font-size:25.00px;transform:scaleX(0.8832);-webkit-text-stroke:0.14px #FFF1E5;">04539</div>
<div class="t" style="left:585.70px;top:1168.45px;font-size:25.00px;transform:scaleX(0.8832);-webkit-text-stroke:0.14px #FFF1E5;">06317</div>
<div class="t" style="left:886.25px;top:1168.45px;font-size:25.00px;transform:scaleX(0.8832);-webkit-text-stroke:0.14px #FFF1E5;">06318</div>
<div class="t" style="left:1075.00px;top:1168.45px;font-size:25.00px;transform:scaleX(0.8832);-webkit-text-stroke:0.14px #FFF1E5;">06319</div>
<div class="t" style="left:1361.35px;top:1168.45px;font-size:25.00px;transform:scaleX(0.8832);-webkit-text-stroke:0.14px #FFF1E5;">06320</div>
<div class="t" style="left:1618.55px;top:1168.45px;font-size:25.00px;transform:scaleX(0.8832);-webkit-text-stroke:0.14px #FFF1E5;">06321</div>
<div class="t" style="left:585.70px;top:1208.00px;font-size:25.00px;transform:scaleX(0.8832);-webkit-text-stroke:0.14px #FFF1E5;">02202</div>
<div class="t" style="left:886.25px;top:1208.00px;font-size:25.00px;transform:scaleX(0.8832);-webkit-text-stroke:0.14px #FFF1E5;">02203</div>
<div class="t" style="left:1075.00px;top:1208.00px;font-size:25.00px;transform:scaleX(0.8705);-webkit-text-stroke:0.14px #FFF1E5;">02204</div>
<div class="t" style="left:1361.35px;top:1208.00px;font-size:25.00px;transform:scaleX(0.8832);-webkit-text-stroke:0.14px #FFF1E5;">02205</div>
<div class="t" style="left:1618.55px;top:1208.00px;font-size:25.00px;transform:scaleX(0.8832);-webkit-text-stroke:0.14px #FFF1E5;">02206</div>
<div class="t" style="left:585.70px;top:1247.55px;font-size:25.00px;transform:scaleX(0.8832);-webkit-text-stroke:0.30px #FFF1E5;">03048</div>
<div class="t" style="left:886.25px;top:1247.55px;font-size:25.00px;transform:scaleX(0.8832);-webkit-text-stroke:0.30px #FFF1E5;">03049</div>
<div class="t" style="left:1075.00px;top:1247.55px;font-size:25.00px;transform:scaleX(0.8832);-webkit-text-stroke:0.30px #FFF1E5;">03050</div>
<div class="t" style="left:1361.35px;top:1247.55px;font-size:25.00px;transform:scaleX(0.8832);-webkit-text-stroke:0.30px #FFF1E5;">03051</div>
<div class="t" style="left:1618.55px;top:1247.55px;font-size:25.00px;transform:scaleX(0.8832);-webkit-text-stroke:0.30px #FFF1E5;">03052</div>
<div class="t b" style="left:582.50px;top:1290.10px;font-size:22.60px;transform:scaleX(1.0536);color:#000;-webkit-text-stroke:0.35px #000;">00541</div>
<div class="t b" style="left:1071.30px;top:1290.10px;font-size:22.60px;transform:scaleX(1.0536);color:#000;-webkit-text-stroke:0.35px #000;">00542</div>
<div class="t b" style="left:1356.55px;top:1290.10px;font-size:22.60px;transform:scaleX(1.0536);color:#000;-webkit-text-stroke:0.35px #000;">00543</div>
<div class="t b" style="left:1616.55px;top:1290.10px;font-size:22.60px;transform:scaleX(1.0370);color:#000;-webkit-text-stroke:0.35px #000;">00544</div>
<div class="t" style="left:886.25px;top:1324.20px;font-size:25.00px;transform:scaleX(0.8832);-webkit-text-stroke:0.14px #FFF1E5;">03253</div>
<div class="t" style="left:114.72px;top:891.90px;font-size:25.00px;transform:scaleX(0.8897);-webkit-text-stroke:0.14px #FFF1E5;">DI interna 2015</div>
<div class="t" style="left:267.90px;top:890.60px;font-size:26.00px;transform:scaleX(0.9228);">..............................................</div>
<div class="t" style="left:114.72px;top:931.45px;font-size:25.00px;transform:scaleX(0.8897);-webkit-text-stroke:0.14px #FFF1E5;">DI interna 2016</div>
<div class="t" style="left:267.90px;top:930.15px;font-size:26.00px;transform:scaleX(0.9228);">..............................................</div>
<div class="t" style="left:114.72px;top:971.00px;font-size:25.00px;transform:scaleX(0.8897);-webkit-text-stroke:0.14px #FFF1E5;">DI interna 2017</div>
<div class="t" style="left:267.90px;top:969.70px;font-size:26.00px;transform:scaleX(0.9228);">..............................................</div>
<div class="t" style="left:114.72px;top:1010.55px;font-size:25.00px;transform:scaleX(0.8897);-webkit-text-stroke:0.14px #FFF1E5;">DI interna 2018</div>
<div class="t" style="left:267.90px;top:1009.25px;font-size:26.00px;transform:scaleX(0.9228);">..............................................</div>
<div class="t" style="left:114.72px;top:1050.10px;font-size:25.00px;transform:scaleX(0.8897);-webkit-text-stroke:0.14px #FFF1E5;">DI interna 2019</div>
<div class="t" style="left:267.90px;top:1048.80px;font-size:26.00px;transform:scaleX(0.9228);">..............................................</div>
<div class="t" style="left:114.72px;top:1089.65px;font-size:25.00px;transform:scaleX(0.8897);-webkit-text-stroke:0.14px #FFF1E5;">DI interna 2020</div>
<div class="t" style="left:267.90px;top:1088.35px;font-size:26.00px;transform:scaleX(0.9228);">..............................................</div>
<div class="t" style="left:114.72px;top:1129.20px;font-size:25.00px;transform:scaleX(0.8897);-webkit-text-stroke:0.14px #FFF1E5;">DI interna 2021</div>
<div class="t" style="left:267.90px;top:1127.90px;font-size:26.00px;transform:scaleX(0.9228);">..............................................</div>
<div class="t" style="left:114.72px;top:1168.75px;font-size:25.00px;transform:scaleX(0.8897);-webkit-text-stroke:0.14px #FFF1E5;">DI interna 2022</div>
<div class="t" style="left:267.90px;top:1167.45px;font-size:26.00px;transform:scaleX(0.9228);">..............................................</div>
<div class="t" style="left:114.72px;top:1208.30px;font-size:25.00px;transform:scaleX(0.8897);-webkit-text-stroke:0.14px #FFF1E5;">DI interna 2023</div>
<div class="t" style="left:267.90px;top:1207.00px;font-size:26.00px;transform:scaleX(0.9228);">..............................................</div>
<div class="t" style="left:114.73px;top:1247.85px;font-size:25.00px;transform:scaleX(0.8844);-webkit-text-stroke:0.14px #FFF1E5;">DI interna 2024</div>
<div class="t" style="left:267.30px;top:1250.05px;font-size:12.00px;transform:scaleX(1.0501);-webkit-text-stroke:0.14px #FFF1E5;">(*)</div>
<div class="t" style="left:281.24px;top:1246.55px;font-size:26.00px;transform:scaleX(0.9228);">............................................</div>
<div class="t b" style="left:116.00px;top:1287.10px;font-size:25.00px;transform:scaleX(0.8609);color:#000;-webkit-text-stroke:0.35px #000;">Total</div>
<div class="t" style="left:167.85px;top:1286.10px;font-size:26.00px;transform:scaleX(0.9230);">.............................................................</div>
<div class="t b" style="left:116.00px;top:1324.20px;font-size:25.00px;transform:scaleX(0.9379);color:#000;-webkit-text-stroke:0.35px #000;">Tipo de gravamen  2024</div>
<div class="t" style="left:393.15px;top:1323.20px;font-size:26.00px;transform:scaleX(0.9230);">.......................................................................</div>
<div class="t" style="left:125.43px;top:1372.20px;font-size:20.30px;transform:scaleX(1.0689);-webkit-text-stroke:0.14px #FFF1E5;">(*)</div>
<div class="t" style="left:163.00px;top:1372.20px;font-size:20.30px;transform:scaleX(0.9093);-webkit-text-stroke:0.14px #FFF1E5;">Sólo debe cumplimentarse si la entidad tiene deducciones pendientes de aplicar generadas en un grupo previo, correspondientes a un período impositivo anterior iniciado en 2024 (consultar instrucciones).</div>
<div class="t" style="left:183.26px;top:1421.20px;font-size:29.00px;transform:scaleX(0.8709);color:#fff;-webkit-text-stroke:0.20px #FF9D3E;">Deducciones por doble imposición internacional RDLeg. 4/2004</div>
<div class="t" style="left:269.12px;top:1478.50px;font-size:23.00px;transform:scaleX(0.8850);-webkit-text-stroke:0.14px #FFF1E5;">Ejercicio de generación</div>
<div class="t" style="left:685.13px;top:1478.50px;font-size:23.00px;transform:scaleX(0.8749);-webkit-text-stroke:0.14px #FFF1E5;">Deducción pendiente</div>
<div class="t" style="left:931.50px;top:1457.00px;font-size:23.00px;transform:scaleX(0.8698);-webkit-text-stroke:0.14px #FFF1E5;">Tipo gravamen</div>
<div class="t" style="left:910.12px;top:1478.60px;font-size:23.00px;transform:scaleX(0.8782);-webkit-text-stroke:0.14px #FFF1E5;">período generación</div>
<div class="t" style="left:1203.06px;top:1457.00px;font-size:23.00px;transform:scaleX(0.9429);-webkit-text-stroke:0.14px #FFF1E5;">2024</div>
<div class="t" style="left:1136.00px;top:1478.60px;font-size:23.00px;transform:scaleX(0.8700);-webkit-text-stroke:0.14px #FFF1E5;">deducción pendiente</div>
<div class="t" style="left:1453.50px;top:1457.00px;font-size:23.00px;transform:scaleX(0.8626);-webkit-text-stroke:0.14px #FFF1E5;">Aplicado en</div>
<div class="t" style="left:1436.50px;top:1478.60px;font-size:23.00px;transform:scaleX(0.8716);-webkit-text-stroke:0.14px #FFF1E5;">esta liquidación</div>
<div class="t" style="left:1635.63px;top:1457.00px;font-size:23.00px;transform:scaleX(0.8715);-webkit-text-stroke:0.14px #FFF1E5;">Pendiente de aplicación</div>
<div class="t" style="left:1655.50px;top:1478.60px;font-size:23.00px;transform:scaleX(0.8802);-webkit-text-stroke:0.14px #FFF1E5;">en períodos futuros</div>
<div class="t" style="left:585.70px;top:1512.70px;font-size:25.00px;transform:scaleX(0.8705);-webkit-text-stroke:0.14px #FFF1E5;">05604</div>
<div class="t" style="left:886.25px;top:1512.70px;font-size:25.00px;transform:scaleX(0.8705);-webkit-text-stroke:0.14px #FFF1E5;">00474</div>
<div class="t" style="left:1075.00px;top:1512.70px;font-size:25.00px;transform:scaleX(0.8832);-webkit-text-stroke:0.14px #FFF1E5;">05605</div>
<div class="t" style="left:1361.05px;top:1512.70px;font-size:25.00px;transform:scaleX(0.8832);-webkit-text-stroke:0.14px #FFF1E5;">05606</div>
<div class="t" style="left:1618.05px;top:1512.70px;font-size:25.00px;transform:scaleX(0.8832);-webkit-text-stroke:0.14px #FFF1E5;">00545</div>
<div class="t" style="left:585.70px;top:1552.27px;font-size:25.00px;transform:scaleX(0.8832);-webkit-text-stroke:0.14px #FFF1E5;">05607</div>
<div class="t" style="left:886.25px;top:1552.27px;font-size:25.00px;transform:scaleX(0.8832);-webkit-text-stroke:0.14px #FFF1E5;">00017</div>
<div class="t" style="left:1075.00px;top:1552.27px;font-size:25.00px;transform:scaleX(0.8832);-webkit-text-stroke:0.14px #FFF1E5;">05608</div>
<div class="t" style="left:1361.05px;top:1552.27px;font-size:25.00px;transform:scaleX(0.8832);-webkit-text-stroke:0.14px #FFF1E5;">05609</div>
<div class="t" style="left:1618.05px;top:1552.27px;font-size:25.00px;transform:scaleX(0.8832);-webkit-text-stroke:0.14px #FFF1E5;">05610</div>
<div class="t" style="left:585.70px;top:1591.84px;font-size:25.00px;transform:scaleX(0.9077);-webkit-text-stroke:0.14px #FFF1E5;">05611</div>
<div class="t" style="left:886.25px;top:1591.84px;font-size:25.00px;transform:scaleX(0.8832);-webkit-text-stroke:0.14px #FFF1E5;">00019</div>
<div class="t" style="left:1075.00px;top:1591.84px;font-size:25.00px;transform:scaleX(0.8832);-webkit-text-stroke:0.14px #FFF1E5;">05612</div>
<div class="t" style="left:1361.05px;top:1591.84px;font-size:25.00px;transform:scaleX(0.8832);-webkit-text-stroke:0.14px #FFF1E5;">05613</div>
<div class="t" style="left:1618.05px;top:1591.84px;font-size:25.00px;transform:scaleX(0.8705);-webkit-text-stroke:0.14px #FFF1E5;">05614</div>
<div class="t" style="left:585.70px;top:1631.41px;font-size:25.00px;transform:scaleX(0.8832);-webkit-text-stroke:0.14px #FFF1E5;">05615</div>
<div class="t" style="left:886.25px;top:1631.41px;font-size:25.00px;transform:scaleX(0.8832);-webkit-text-stroke:0.14px #FFF1E5;">00022</div>
<div class="t" style="left:1075.00px;top:1631.41px;font-size:25.00px;transform:scaleX(0.8832);-webkit-text-stroke:0.14px #FFF1E5;">05616</div>
<div class="t" style="left:1361.05px;top:1631.41px;font-size:25.00px;transform:scaleX(0.8832);-webkit-text-stroke:0.14px #FFF1E5;">05617</div>
<div class="t" style="left:1618.05px;top:1631.41px;font-size:25.00px;transform:scaleX(0.8832);-webkit-text-stroke:0.14px #FFF1E5;">05618</div>
<div class="t" style="left:585.70px;top:1670.98px;font-size:25.00px;transform:scaleX(0.8832);-webkit-text-stroke:0.14px #FFF1E5;">05619</div>
<div class="t" style="left:886.25px;top:1670.98px;font-size:25.00px;transform:scaleX(0.8832);-webkit-text-stroke:0.14px #FFF1E5;">00028</div>
<div class="t" style="left:1075.00px;top:1670.98px;font-size:25.00px;transform:scaleX(0.8832);-webkit-text-stroke:0.14px #FFF1E5;">05620</div>
<div class="t" style="left:1361.05px;top:1670.98px;font-size:25.00px;transform:scaleX(0.8832);-webkit-text-stroke:0.14px #FFF1E5;">05621</div>
<div class="t" style="left:1618.05px;top:1670.98px;font-size:25.00px;transform:scaleX(0.8832);-webkit-text-stroke:0.14px #FFF1E5;">05622</div>
<div class="t" style="left:585.70px;top:1710.55px;font-size:25.00px;transform:scaleX(0.8832);-webkit-text-stroke:0.14px #FFF1E5;">05623</div>
<div class="t" style="left:886.25px;top:1710.55px;font-size:25.00px;transform:scaleX(0.8705);-webkit-text-stroke:0.14px #FFF1E5;">00034</div>
<div class="t" style="left:1075.00px;top:1710.55px;font-size:25.00px;transform:scaleX(0.8705);-webkit-text-stroke:0.14px #FFF1E5;">05624</div>
<div class="t" style="left:1361.05px;top:1710.55px;font-size:25.00px;transform:scaleX(0.8832);-webkit-text-stroke:0.14px #FFF1E5;">05625</div>
<div class="t" style="left:1618.05px;top:1710.55px;font-size:25.00px;transform:scaleX(0.8832);-webkit-text-stroke:0.14px #FFF1E5;">05626</div>
<div class="t" style="left:585.70px;top:1750.12px;font-size:25.00px;transform:scaleX(0.8832);-webkit-text-stroke:0.14px #FFF1E5;">05627</div>
<div class="t" style="left:886.25px;top:1750.12px;font-size:25.00px;transform:scaleX(0.8832);-webkit-text-stroke:0.14px #FFF1E5;">00040</div>
<div class="t" style="left:1075.00px;top:1750.12px;font-size:25.00px;transform:scaleX(0.8832);-webkit-text-stroke:0.14px #FFF1E5;">05628</div>
<div class="t" style="left:1361.05px;top:1750.12px;font-size:25.00px;transform:scaleX(0.8832);-webkit-text-stroke:0.14px #FFF1E5;">05629</div>
<div class="t" style="left:1618.05px;top:1750.12px;font-size:25.00px;transform:scaleX(0.8832);-webkit-text-stroke:0.14px #FFF1E5;">05630</div>
<div class="t" style="left:585.70px;top:1789.69px;font-size:25.00px;transform:scaleX(0.8832);-webkit-text-stroke:0.14px #FFF1E5;">05631</div>
<div class="t" style="left:886.25px;top:1789.69px;font-size:25.00px;transform:scaleX(0.8832);-webkit-text-stroke:0.14px #FFF1E5;">00046</div>
<div class="t" style="left:1075.00px;top:1789.69px;font-size:25.00px;transform:scaleX(0.8832);-webkit-text-stroke:0.14px #FFF1E5;">05632</div>
<div class="t" style="left:1361.05px;top:1789.69px;font-size:25.00px;transform:scaleX(0.8832);-webkit-text-stroke:0.14px #FFF1E5;">05633</div>
<div class="t" style="left:1618.05px;top:1789.69px;font-size:25.00px;transform:scaleX(0.8705);-webkit-text-stroke:0.14px #FFF1E5;">05634</div>
<div class="t" style="left:585.70px;top:1829.26px;font-size:25.00px;transform:scaleX(0.8832);-webkit-text-stroke:0.14px #FFF1E5;">05635</div>
<div class="t" style="left:886.25px;top:1829.26px;font-size:25.00px;transform:scaleX(0.8832);-webkit-text-stroke:0.14px #FFF1E5;">00052</div>
<div class="t" style="left:1075.00px;top:1829.26px;font-size:25.00px;transform:scaleX(0.8832);-webkit-text-stroke:0.14px #FFF1E5;">05636</div>
<div class="t" style="left:1361.05px;top:1829.26px;font-size:25.00px;transform:scaleX(0.8832);-webkit-text-stroke:0.14px #FFF1E5;">05637</div>
<div class="t" style="left:1618.05px;top:1829.26px;font-size:25.00px;transform:scaleX(0.8832);-webkit-text-stroke:0.14px #FFF1E5;">05638</div>
<div class="t" style="left:585.70px;top:1868.83px;font-size:25.00px;transform:scaleX(0.8832);-webkit-text-stroke:0.30px #FFF1E5;">05639</div>
<div class="t" style="left:886.25px;top:1868.83px;font-size:25.00px;transform:scaleX(0.8832);-webkit-text-stroke:0.30px #FFF1E5;">00598</div>
<div class="t" style="left:1075.00px;top:1868.83px;font-size:25.00px;transform:scaleX(0.8832);-webkit-text-stroke:0.30px #FFF1E5;">05640</div>
<div class="t" style="left:1361.05px;top:1868.83px;font-size:25.00px;transform:scaleX(0.8832);-webkit-text-stroke:0.30px #FFF1E5;">05641</div>
<div class="t" style="left:1618.05px;top:1868.83px;font-size:25.00px;transform:scaleX(0.8832);-webkit-text-stroke:0.30px #FFF1E5;">05642</div>
<div class="t b" style="left:582.50px;top:1911.40px;font-size:22.60px;transform:scaleX(1.0536);color:#000;-webkit-text-stroke:0.35px #000;">05643</div>
<div class="t b" style="left:1071.30px;top:1911.40px;font-size:22.60px;transform:scaleX(1.0370);color:#000;-webkit-text-stroke:0.35px #000;">05644</div>
<div class="t b" style="left:1356.55px;top:1911.40px;font-size:22.60px;transform:scaleX(1.0536);color:#000;-webkit-text-stroke:0.35px #000;">05645</div>
<div class="t b" style="left:1616.55px;top:1911.40px;font-size:22.60px;transform:scaleX(1.0536);color:#000;-webkit-text-stroke:0.35px #000;">05646</div>
<div class="t" style="left:886.25px;top:1947.00px;font-size:25.00px;transform:scaleX(0.8832);-webkit-text-stroke:0.14px #FFF1E5;">03253</div>
<div class="t" style="left:118.08px;top:1511.70px;font-size:26.00px;transform:scaleX(0.9223);-webkit-text-stroke:0.14px #FFF1E5;">2005</div>
<div class="t" style="left:169.92px;top:1511.70px;font-size:26.00px;transform:scaleX(0.9230);">............................................................</div>
<div class="t" style="left:118.08px;top:1551.27px;font-size:26.00px;transform:scaleX(0.9223);-webkit-text-stroke:0.14px #FFF1E5;">2006</div>
<div class="t" style="left:169.92px;top:1551.27px;font-size:26.00px;transform:scaleX(0.9230);">............................................................</div>
<div class="t" style="left:118.08px;top:1590.84px;font-size:26.00px;transform:scaleX(0.9223);-webkit-text-stroke:0.14px #FFF1E5;">2007</div>
<div class="t" style="left:169.92px;top:1590.84px;font-size:26.00px;transform:scaleX(0.9230);">............................................................</div>
<div class="t" style="left:118.08px;top:1630.41px;font-size:26.00px;transform:scaleX(0.9223);-webkit-text-stroke:0.14px #FFF1E5;">2008</div>
<div class="t" style="left:169.92px;top:1630.41px;font-size:26.00px;transform:scaleX(0.9230);">............................................................</div>
<div class="t" style="left:118.08px;top:1669.98px;font-size:26.00px;transform:scaleX(0.9223);-webkit-text-stroke:0.14px #FFF1E5;">2009</div>
<div class="t" style="left:169.92px;top:1669.98px;font-size:26.00px;transform:scaleX(0.9230);">............................................................</div>
<div class="t" style="left:118.08px;top:1709.55px;font-size:26.00px;transform:scaleX(0.9223);-webkit-text-stroke:0.14px #FFF1E5;">2010</div>
<div class="t" style="left:169.92px;top:1709.55px;font-size:26.00px;transform:scaleX(0.9230);">............................................................</div>
<div class="t" style="left:118.04px;top:1749.12px;font-size:26.00px;transform:scaleX(0.9550);-webkit-text-stroke:0.14px #FFF1E5;">2011</div>
<div class="t" style="left:169.92px;top:1749.12px;font-size:26.00px;transform:scaleX(0.9230);">............................................................</div>
<div class="t" style="left:118.08px;top:1788.69px;font-size:26.00px;transform:scaleX(0.9223);-webkit-text-stroke:0.14px #FFF1E5;">2012</div>
<div class="t" style="left:169.92px;top:1788.69px;font-size:26.00px;transform:scaleX(0.9230);">............................................................</div>
<div class="t" style="left:118.08px;top:1828.26px;font-size:26.00px;transform:scaleX(0.9223);-webkit-text-stroke:0.14px #FFF1E5;">2013</div>
<div class="t" style="left:169.92px;top:1828.26px;font-size:26.00px;transform:scaleX(0.9230);">............................................................</div>
<div class="t" style="left:118.08px;top:1867.83px;font-size:26.00px;transform:scaleX(0.9223);-webkit-text-stroke:0.14px #FFF1E5;">2014</div>
<div class="t" style="left:169.92px;top:1867.83px;font-size:26.00px;transform:scaleX(0.9230);">............................................................</div>
<div class="t b" style="left:118.50px;top:1908.40px;font-size:25.00px;transform:scaleX(0.8972);color:#000;-webkit-text-stroke:0.35px #000;">Total períodos anteriores</div>
<div class="t b" style="left:390.97px;top:1907.40px;font-size:26.00px;transform:scaleX(0.9129);">...........................</div>
<div class="t b" style="left:116.00px;top:1947.00px;font-size:25.00px;transform:scaleX(0.9379);color:#000;-webkit-text-stroke:0.35px #000;">Tipo de gravamen  2024</div>
<div class="t" style="left:393.15px;top:1946.00px;font-size:26.00px;transform:scaleX(0.9230);">.......................................................................</div>
<div class="t" style="left:159.75px;top:1998.70px;font-size:28.40px;transform:scaleX(0.8743);color:#fff;-webkit-text-stroke:0.20px #FF9D3E;">Deducciones doble imposición internacional LIS</div>
<div class="t b" style="left:118.15px;top:2047.20px;font-size:24.40px;transform:scaleX(0.8498);color:#000;-webkit-text-stroke:0.35px #000;">DI internacional períodos anteriores:</div>
<div class="t" style="left:674.13px;top:2054.50px;font-size:23.00px;transform:scaleX(0.8725);-webkit-text-stroke:0.14px #FFF1E5;">Deducción pendiente</div>
<div class="t" style="left:928.30px;top:2032.80px;font-size:23.00px;transform:scaleX(0.8678);-webkit-text-stroke:0.14px #FFF1E5;">Tipo gravamen</div>
<div class="t" style="left:895.12px;top:2054.40px;font-size:23.00px;transform:scaleX(0.8808);-webkit-text-stroke:0.14px #FFF1E5;">período generación</div>
<div class="t" style="left:1219.06px;top:2032.80px;font-size:23.00px;transform:scaleX(0.9390);-webkit-text-stroke:0.14px #FFF1E5;">2024</div>
<div class="t" style="left:1151.00px;top:2054.40px;font-size:23.00px;transform:scaleX(0.8733);-webkit-text-stroke:0.14px #FFF1E5;">deducción pendiente</div>
<div class="t" style="left:1455.70px;top:2032.80px;font-size:23.00px;transform:scaleX(0.8651);-webkit-text-stroke:0.14px #FFF1E5;">Aplicado en</div>
<div class="t" style="left:1439.00px;top:2054.40px;font-size:23.00px;transform:scaleX(0.8684);-webkit-text-stroke:0.14px #FFF1E5;">esta liquidación</div>
<div class="t" style="left:1637.43px;top:2032.80px;font-size:23.00px;transform:scaleX(0.8732);-webkit-text-stroke:0.14px #FFF1E5;">Pendiente de aplicación</div>
<div class="t" style="left:1670.12px;top:2054.40px;font-size:23.00px;transform:scaleX(0.8846);-webkit-text-stroke:0.14px #FFF1E5;">períodos futuros</div>
<div class="t" style="left:585.70px;top:2091.10px;font-size:25.00px;transform:scaleX(0.8832);-webkit-text-stroke:0.14px #FFF1E5;">05647</div>
<div class="t" style="left:886.25px;top:2091.10px;font-size:25.00px;transform:scaleX(0.8832);-webkit-text-stroke:0.14px #FFF1E5;">00693</div>
<div class="t" style="left:1074.00px;top:2091.10px;font-size:25.00px;transform:scaleX(0.8832);-webkit-text-stroke:0.14px #FFF1E5;">05648</div>
<div class="t" style="left:1358.05px;top:2091.10px;font-size:25.00px;transform:scaleX(0.8832);-webkit-text-stroke:0.14px #FFF1E5;">05649</div>
<div class="t" style="left:1618.05px;top:2091.10px;font-size:25.00px;transform:scaleX(0.8832);-webkit-text-stroke:0.14px #FFF1E5;">05650</div>
<div class="t" style="left:585.70px;top:2130.67px;font-size:25.00px;transform:scaleX(0.8832);-webkit-text-stroke:0.14px #FFF1E5;">00546</div>
<div class="t" style="left:886.25px;top:2130.67px;font-size:25.00px;transform:scaleX(0.8832);-webkit-text-stroke:0.14px #FFF1E5;">00507</div>
<div class="t" style="left:1074.00px;top:2130.67px;font-size:25.00px;transform:scaleX(0.8832);-webkit-text-stroke:0.14px #FFF1E5;">00547</div>
<div class="t" style="left:1358.05px;top:2130.67px;font-size:25.00px;transform:scaleX(0.8832);-webkit-text-stroke:0.14px #FFF1E5;">00548</div>
<div class="t" style="left:1618.05px;top:2130.67px;font-size:25.00px;transform:scaleX(0.8832);-webkit-text-stroke:0.14px #FFF1E5;">00549</div>
<div class="t" style="left:585.70px;top:2170.24px;font-size:25.00px;transform:scaleX(0.8832);-webkit-text-stroke:0.14px #FFF1E5;">00352</div>
<div class="t" style="left:886.25px;top:2170.24px;font-size:25.00px;transform:scaleX(0.8832);-webkit-text-stroke:0.14px #FFF1E5;">00348</div>
<div class="t" style="left:1074.00px;top:2170.24px;font-size:25.00px;transform:scaleX(0.8832);-webkit-text-stroke:0.14px #FFF1E5;">00353</div>
<div class="t" style="left:1358.05px;top:2170.24px;font-size:25.00px;transform:scaleX(0.8705);-webkit-text-stroke:0.14px #FFF1E5;">00354</div>
<div class="t" style="left:1618.05px;top:2170.24px;font-size:25.00px;transform:scaleX(0.8832);-webkit-text-stroke:0.14px #FFF1E5;">00355</div>
<div class="t" style="left:585.70px;top:2209.81px;font-size:25.00px;transform:scaleX(0.8832);-webkit-text-stroke:0.14px #FFF1E5;">03423</div>
<div class="t" style="left:886.25px;top:2209.81px;font-size:25.00px;transform:scaleX(0.8832);-webkit-text-stroke:0.14px #FFF1E5;">02260</div>
<div class="t" style="left:1074.00px;top:2209.81px;font-size:25.00px;transform:scaleX(0.8705);-webkit-text-stroke:0.14px #FFF1E5;">03424</div>
<div class="t" style="left:1358.05px;top:2209.81px;font-size:25.00px;transform:scaleX(0.8832);-webkit-text-stroke:0.14px #FFF1E5;">03425</div>
<div class="t" style="left:1618.05px;top:2209.81px;font-size:25.00px;transform:scaleX(0.8832);-webkit-text-stroke:0.14px #FFF1E5;">03426</div>
<div class="t" style="left:585.70px;top:2249.38px;font-size:25.00px;transform:scaleX(0.8705);-webkit-text-stroke:0.14px #FFF1E5;">01254</div>
<div class="t" style="left:886.25px;top:2249.38px;font-size:25.00px;transform:scaleX(0.8832);-webkit-text-stroke:0.14px #FFF1E5;">02258</div>
<div class="t" style="left:1074.00px;top:2249.38px;font-size:25.00px;transform:scaleX(0.8832);-webkit-text-stroke:0.14px #FFF1E5;">01255</div>
<div class="t" style="left:1358.05px;top:2249.38px;font-size:25.00px;transform:scaleX(0.8832);-webkit-text-stroke:0.14px #FFF1E5;">01256</div>
<div class="t" style="left:1618.05px;top:2249.38px;font-size:25.00px;transform:scaleX(0.8832);-webkit-text-stroke:0.14px #FFF1E5;">01257</div>
<div class="t" style="left:585.70px;top:2288.95px;font-size:25.00px;transform:scaleX(0.8832);-webkit-text-stroke:0.14px #FFF1E5;">04041</div>
<div class="t" style="left:886.25px;top:2288.95px;font-size:25.00px;transform:scaleX(0.8832);-webkit-text-stroke:0.14px #FFF1E5;">04037</div>
<div class="t" style="left:1074.00px;top:2288.95px;font-size:25.00px;transform:scaleX(0.8832);-webkit-text-stroke:0.14px #FFF1E5;">04042</div>
<div class="t" style="left:1358.05px;top:2288.95px;font-size:25.00px;transform:scaleX(0.8832);-webkit-text-stroke:0.14px #FFF1E5;">04043</div>
<div class="t" style="left:1618.05px;top:2288.95px;font-size:25.00px;transform:scaleX(0.8705);-webkit-text-stroke:0.14px #FFF1E5;">04044</div>
<div class="t" style="left:585.70px;top:2328.52px;font-size:25.00px;transform:scaleX(0.8832);-webkit-text-stroke:0.14px #FFF1E5;">04540</div>
<div class="t" style="left:886.25px;top:2328.52px;font-size:25.00px;transform:scaleX(0.8832);-webkit-text-stroke:0.14px #FFF1E5;">00806</div>
<div class="t" style="left:1074.00px;top:2328.52px;font-size:25.00px;transform:scaleX(0.8832);-webkit-text-stroke:0.14px #FFF1E5;">04541</div>
<div class="t" style="left:1358.05px;top:2328.52px;font-size:25.00px;transform:scaleX(0.8832);-webkit-text-stroke:0.14px #FFF1E5;">04542</div>
<div class="t" style="left:1618.05px;top:2328.52px;font-size:25.00px;transform:scaleX(0.8832);-webkit-text-stroke:0.14px #FFF1E5;">04543</div>
<div class="t" style="left:585.70px;top:2368.09px;font-size:25.00px;transform:scaleX(0.8832);-webkit-text-stroke:0.14px #FFF1E5;">06322</div>
<div class="t" style="left:886.25px;top:2368.09px;font-size:25.00px;transform:scaleX(0.8832);-webkit-text-stroke:0.14px #FFF1E5;">06318</div>
<div class="t" style="left:1074.00px;top:2368.09px;font-size:25.00px;transform:scaleX(0.8832);-webkit-text-stroke:0.14px #FFF1E5;">06323</div>
<div class="t" style="left:1358.05px;top:2368.09px;font-size:25.00px;transform:scaleX(0.8705);-webkit-text-stroke:0.14px #FFF1E5;">06324</div>
<div class="t" style="left:1618.05px;top:2368.09px;font-size:25.00px;transform:scaleX(0.8832);-webkit-text-stroke:0.14px #FFF1E5;">06325</div>
<div class="t" style="left:585.70px;top:2407.66px;font-size:25.00px;transform:scaleX(0.8832);-webkit-text-stroke:0.14px #FFF1E5;">02207</div>
<div class="t" style="left:886.25px;top:2407.66px;font-size:25.00px;transform:scaleX(0.8832);-webkit-text-stroke:0.14px #FFF1E5;">02203</div>
<div class="t" style="left:1074.00px;top:2407.66px;font-size:25.00px;transform:scaleX(0.8832);-webkit-text-stroke:0.14px #FFF1E5;">02208</div>
<div class="t" style="left:1358.05px;top:2407.66px;font-size:25.00px;transform:scaleX(0.8832);-webkit-text-stroke:0.14px #FFF1E5;">02209</div>
<div class="t" style="left:1618.05px;top:2407.66px;font-size:25.00px;transform:scaleX(0.8832);-webkit-text-stroke:0.14px #FFF1E5;">02210</div>
<div class="t" style="left:585.70px;top:2447.23px;font-size:25.00px;transform:scaleX(0.8832);-webkit-text-stroke:0.30px #FFF1E5;">03053</div>
<div class="t" style="left:886.25px;top:2447.23px;font-size:25.00px;transform:scaleX(0.8832);-webkit-text-stroke:0.30px #FFF1E5;">03049</div>
<div class="t" style="left:1074.00px;top:2447.23px;font-size:25.00px;transform:scaleX(0.8832);-webkit-text-stroke:0.30px #FFF1E5;">03162</div>
<div class="t" style="left:1358.05px;top:2447.23px;font-size:25.00px;transform:scaleX(0.8832);-webkit-text-stroke:0.30px #FFF1E5;">03163</div>
<div class="t" style="left:1618.05px;top:2447.23px;font-size:25.00px;transform:scaleX(0.8705);-webkit-text-stroke:0.30px #FFF1E5;">03164</div>
<div class="t b" style="left:582.50px;top:2489.80px;font-size:22.60px;transform:scaleX(1.0536);color:#000;-webkit-text-stroke:0.35px #000;">05651</div>
<div class="t b" style="left:1071.30px;top:2489.80px;font-size:22.60px;transform:scaleX(1.0536);color:#000;-webkit-text-stroke:0.35px #000;">05652</div>
<div class="t b" style="left:1356.55px;top:2489.80px;font-size:22.60px;transform:scaleX(1.0536);color:#000;-webkit-text-stroke:0.35px #000;">05653</div>
<div class="t b" style="left:1616.55px;top:2489.80px;font-size:22.60px;transform:scaleX(1.0370);color:#000;-webkit-text-stroke:0.35px #000;">05654</div>
<div class="t" style="left:886.25px;top:2524.20px;font-size:25.00px;transform:scaleX(0.8832);-webkit-text-stroke:0.14px #FFF1E5;">03253</div>
<div class="t" style="left:115.25px;top:2091.40px;font-size:25.00px;transform:scaleX(0.8763);-webkit-text-stroke:0.14px #FFF1E5;">DI internacional 2015</div>
<div class="t" style="left:327.60px;top:2090.10px;font-size:26.00px;transform:scaleX(0.9227);">....................................</div>
<div class="t" style="left:115.25px;top:2130.97px;font-size:25.00px;transform:scaleX(0.8763);-webkit-text-stroke:0.14px #FFF1E5;">DI internacional 2016</div>
<div class="t" style="left:327.60px;top:2129.67px;font-size:26.00px;transform:scaleX(0.9227);">....................................</div>
<div class="t" style="left:115.25px;top:2170.54px;font-size:25.00px;transform:scaleX(0.8763);-webkit-text-stroke:0.14px #FFF1E5;">DI internacional 2017</div>
<div class="t" style="left:327.60px;top:2169.24px;font-size:26.00px;transform:scaleX(0.9227);">....................................</div>
<div class="t" style="left:115.25px;top:2210.11px;font-size:25.00px;transform:scaleX(0.8763);-webkit-text-stroke:0.14px #FFF1E5;">DI internacional 2018</div>
<div class="t" style="left:327.60px;top:2208.81px;font-size:26.00px;transform:scaleX(0.9227);">....................................</div>
<div class="t" style="left:115.25px;top:2249.68px;font-size:25.00px;transform:scaleX(0.8763);-webkit-text-stroke:0.14px #FFF1E5;">DI internacional 2019</div>
<div class="t" style="left:327.60px;top:2248.38px;font-size:26.00px;transform:scaleX(0.9227);">....................................</div>
<div class="t" style="left:115.25px;top:2289.25px;font-size:25.00px;transform:scaleX(0.8763);-webkit-text-stroke:0.14px #FFF1E5;">DI internacional 2020</div>
<div class="t" style="left:327.60px;top:2287.95px;font-size:26.00px;transform:scaleX(0.9227);">....................................</div>
<div class="t" style="left:115.25px;top:2328.82px;font-size:25.00px;transform:scaleX(0.8763);-webkit-text-stroke:0.14px #FFF1E5;">DI internacional 2021</div>
<div class="t" style="left:327.60px;top:2327.52px;font-size:26.00px;transform:scaleX(0.9227);">....................................</div>
<div class="t" style="left:115.25px;top:2368.39px;font-size:25.00px;transform:scaleX(0.8763);-webkit-text-stroke:0.14px #FFF1E5;">DI internacional 2022</div>
<div class="t" style="left:327.60px;top:2367.09px;font-size:26.00px;transform:scaleX(0.9227);">....................................</div>
<div class="t" style="left:115.25px;top:2407.96px;font-size:25.00px;transform:scaleX(0.8763);-webkit-text-stroke:0.14px #FFF1E5;">DI internacional 2023</div>
<div class="t" style="left:327.60px;top:2406.66px;font-size:26.00px;transform:scaleX(0.9227);">....................................</div>
<div class="t" style="left:115.25px;top:2447.53px;font-size:25.00px;transform:scaleX(0.8726);-webkit-text-stroke:0.14px #FFF1E5;">DI internacional 2024</div>
<div class="t" style="left:323.80px;top:2449.73px;font-size:12.00px;transform:scaleX(1.0501);-webkit-text-stroke:0.14px #FFF1E5;">(*)</div>
<div class="t" style="left:340.94px;top:2446.23px;font-size:26.00px;transform:scaleX(0.9227);">..................................</div>
<div class="t b" style="left:116.00px;top:2486.80px;font-size:25.00px;transform:scaleX(0.8609);color:#000;-webkit-text-stroke:0.35px #000;">Total</div>
<div class="t" style="left:167.52px;top:2485.80px;font-size:26.00px;transform:scaleX(0.9230);">............................................................</div>
<div class="t b" style="left:116.00px;top:2524.20px;font-size:25.00px;transform:scaleX(0.9343);color:#000;-webkit-text-stroke:0.35px #000;">Tipo de gravamen  2024</div>
<div class="t" style="left:393.15px;top:2523.20px;font-size:26.00px;transform:scaleX(0.9230);">.......................................................................</div>
<div class="t" style="left:131.43px;top:2579.00px;font-size:20.30px;transform:scaleX(1.0689);-webkit-text-stroke:0.14px #FFF1E5;">(*)</div>
<div class="t" style="left:168.50px;top:2579.00px;font-size:20.30px;transform:scaleX(0.9139);-webkit-text-stroke:0.14px #FFF1E5;">Sólo debe cumplimentarse si la entidad tiene deducciones pendientes de aplicar generadas en un grupo previo, correspondientes a un período impositivo anterior iniciado en 2024 (consultar instrucciones).</div>
</div>
</body></html>
